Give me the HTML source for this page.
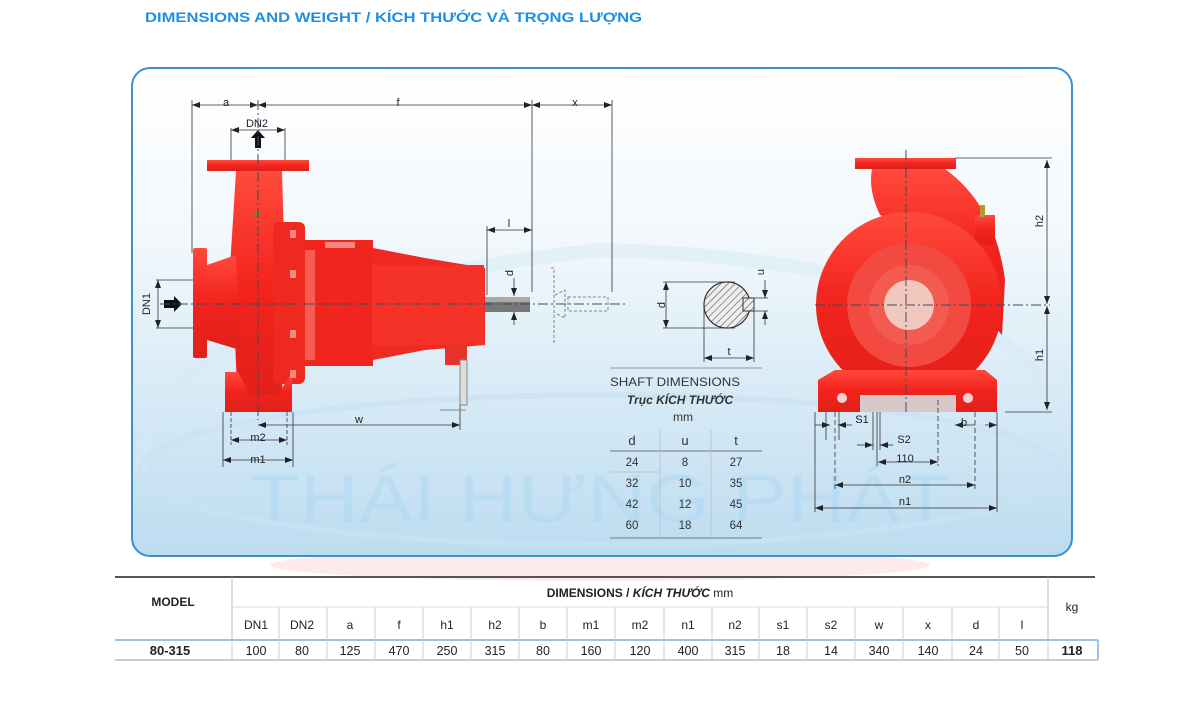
<!DOCTYPE html>
<html><head><meta charset="utf-8"><style>
html,body{margin:0;padding:0;background:#fff;}
svg{display:block;font-family:"Liberation Sans","Noto Sans CJK SC",sans-serif;}
</style></head><body>
<svg width="1200" height="701" viewBox="0 0 1200 701" xmlns="http://www.w3.org/2000/svg">
<defs>
<linearGradient id="bg" x1="0" y1="0" x2="0" y2="1">
<stop offset="0" stop-color="#ffffff"/><stop offset="0.35" stop-color="#f2f8fc"/><stop offset="1" stop-color="#bcdcf0"/>
</linearGradient>
<linearGradient id="red" x1="0" y1="0" x2="0" y2="1">
<stop offset="0" stop-color="#ff4a3c"/><stop offset="0.5" stop-color="#f2231c"/><stop offset="1" stop-color="#e0201a"/>
</linearGradient>
<pattern id="hatch" width="5" height="5" patternUnits="userSpaceOnUse" patternTransform="rotate(45)">
<rect width="5" height="5" fill="#eee"/><line x1="0" y1="0" x2="0" y2="5" stroke="#555" stroke-width="1.2"/>
</pattern>
<marker id="ar" markerWidth="8" markerHeight="6" refX="8" refY="3" orient="auto" markerUnits="userSpaceOnUse"><path d="M0,0 L8,3 L0,6z" fill="#222"/></marker>
<marker id="al" markerWidth="8" markerHeight="6" refX="0" refY="3" orient="auto" markerUnits="userSpaceOnUse"><path d="M8,0 L0,3 L8,6z" fill="#222"/></marker>
</defs>
<text x="145" y="22" font-size="14" font-weight="bold" fill="#1f8fe3" textLength="497" lengthAdjust="spacingAndGlyphs">DIMENSIONS AND WEIGHT / KÍCH THƯỚC VÀ TRỌNG LƯỢNG</text>

<ellipse cx="600" cy="565" rx="330" ry="16" fill="#fdeaea"/>
<rect x="132" y="68" width="940" height="488" rx="18" fill="url(#bg)" stroke="#3d8fcf" stroke-width="2"/>
<path d="M140 470 Q150 300 600 250 Q1000 260 1065 420" fill="none" stroke="#d6e9f5" stroke-width="14" opacity="0.5"/>
<ellipse cx="600" cy="470" rx="460" ry="75" fill="none" stroke="#c9e2f2" stroke-width="6" opacity="0.7"/>
<text x="250" y="522" font-size="68" fill="#a6d6f3" opacity="0.4" textLength="700" lengthAdjust="spacingAndGlyphs">THÁI HƯNG PHÁT</text>

<g stroke="#333" stroke-width="0.8" fill="none">
<line x1="192" y1="105" x2="258" y2="105" marker-start="url(#al)" marker-end="url(#ar)"/>
<line x1="258" y1="105" x2="532" y2="105" marker-start="url(#al)" marker-end="url(#ar)"/>
<line x1="532" y1="105" x2="612" y2="105" marker-start="url(#al)" marker-end="url(#ar)"/>
<line x1="192" y1="100" x2="192" y2="253"/>
<line x1="532" y1="100" x2="532" y2="292"/>
<line x1="612" y1="100" x2="612" y2="292"/>
<line x1="231" y1="130" x2="285" y2="130" marker-start="url(#al)" marker-end="url(#ar)"/>
<line x1="231" y1="128" x2="231" y2="160"/><line x1="285" y1="128" x2="285" y2="160"/>
<line x1="487" y1="230" x2="532" y2="230" marker-start="url(#al)" marker-end="url(#ar)"/>
<line x1="487" y1="226" x2="487" y2="295"/>
<line x1="158" y1="280" x2="158" y2="328" marker-start="url(#al)" marker-end="url(#ar)"/>
<line x1="156" y1="280" x2="193" y2="280"/><line x1="156" y1="328" x2="193" y2="328"/>
<line x1="514" y1="278" x2="514" y2="296" marker-end="url(#ar)"/>
<line x1="514" y1="325" x2="514" y2="312" marker-end="url(#ar)"/>
<line x1="258" y1="425" x2="460" y2="425" marker-start="url(#al)" marker-end="url(#ar)"/>
<line x1="460" y1="380" x2="460" y2="430"/>
<line x1="231" y1="440" x2="287" y2="440" marker-start="url(#al)" marker-end="url(#ar)"/>
<line x1="223" y1="460" x2="293" y2="460" marker-start="url(#al)" marker-end="url(#ar)"/>
<line x1="223" y1="412" x2="223" y2="467"/><line x1="293" y1="412" x2="293" y2="467"/>
<line x1="231" y1="412" x2="231" y2="445" stroke-dasharray="4 2"/><line x1="287" y1="412" x2="287" y2="445" stroke-dasharray="4 2"/>
</g>

<g fill="url(#red)">
<rect x="207" y="160" width="102" height="11"/>
<path d="M236 171 L282 171 L284 240 L282 410 L238 410 L235 340 L228 300 Z"/>
<rect x="193" y="248" width="14" height="110" rx="2"/>
<path d="M207 265 L236 255 L240 350 L207 340 Z"/>
<rect x="273" y="222" width="32" height="162" rx="6" fill="#ee2a20"/>
<rect x="305" y="240" width="68" height="126" fill="#f0261e"/>
<path d="M373 248 L425 258 L485 268 L485 345 L425 350 L373 360 Z" fill="#ef2a22"/>
<rect x="372" y="265" width="112" height="80" fill="#f43228"/>
<path d="M225 372 L238 372 L250 395 L278 395 L292 372 L292 412 L225 412 Z"/>
<rect x="445" y="343" width="22" height="22" fill="#e8332b"/>
</g>
<g fill="#f6a09a" opacity="0.8">
<rect x="325" y="242" width="30" height="6"/>
<rect x="290" y="230" width="6" height="8"/><rect x="290" y="270" width="6" height="8"/><rect x="290" y="330" width="6" height="8"/><rect x="290" y="370" width="6" height="8"/>
<rect x="305" y="250" width="10" height="110" fill="#f86a60"/>
</g>
<rect x="485" y="297" width="45" height="15" fill="#777"/>
<rect x="485" y="297" width="45" height="5" fill="#aaa"/>
<path d="M251 138 L258 130 L265 138 L261 138 L261 148 L255 148 L255 138Z" fill="#111"/>
<path d="M164 300 L174 300 L174 296 L182 304 L174 312 L174 308 L164 308Z" fill="#111"/>
<circle cx="257" cy="214" r="3" fill="#8a7a30"/>
<g stroke="#888" stroke-width="1" fill="#ddd">
<rect x="460" y="360" width="7" height="45"/>
<line x1="440" y1="410" x2="466" y2="410"/>
</g>
<g stroke="#3a4a6a" stroke-width="1" stroke-dasharray="10 3 2 3" fill="none">
<line x1="160" y1="304" x2="625" y2="304"/>
<line x1="258" y1="100" x2="258" y2="420"/>
</g>
<g stroke="#666" stroke-width="0.8" fill="none" stroke-dasharray="3 2">
<rect x="568" y="297" width="40" height="14"/>
<path d="M551 268 L554 268 L554 342 L551 342"/>
<path d="M555 295 L565 290 L565 318 L555 313"/>
</g>

<g stroke="#333" stroke-width="0.8" fill="none">
<line x1="663" y1="282" x2="735" y2="282"/><line x1="663" y1="328" x2="735" y2="328"/>
<line x1="666" y1="282" x2="666" y2="328" marker-start="url(#al)" marker-end="url(#ar)"/>
<line x1="704" y1="305" x2="704" y2="362"/><line x1="754" y1="305" x2="754" y2="362"/>
<line x1="704" y1="358" x2="754" y2="358" marker-start="url(#al)" marker-end="url(#ar)"/>
<line x1="765" y1="280" x2="765" y2="298" marker-end="url(#ar)"/>
<line x1="765" y1="325" x2="765" y2="311" marker-end="url(#ar)"/>
<line x1="745" y1="298" x2="768" y2="298"/><line x1="745" y1="311" x2="768" y2="311"/>
<line x1="610" y1="368" x2="762" y2="368" stroke="#777"/>
</g>
<circle cx="727" cy="305" r="23" fill="url(#hatch)" stroke="#333" stroke-width="1.2"/>
<rect x="743" y="298" width="11" height="13" fill="url(#hatch)" stroke="#333" stroke-width="1"/>
<g font-size="11" fill="#222" text-anchor="middle">
<text x="661" y="309" transform="rotate(-90 661 305)">d</text>
<text x="729" y="355">t</text>
<text x="763" y="277" transform="rotate(-90 761 274)">u</text>
</g>
<g fill="#333" font-size="12">
<text x="610" y="386" textLength="130" lengthAdjust="spacingAndGlyphs">SHAFT DIMENSIONS</text>
<text x="627" y="404" font-style="italic" font-weight="bold">Trục KÍCH THƯỚC</text>
<text x="683" y="421" text-anchor="middle">mm</text>
<g text-anchor="middle" font-size="13"><text x="632" y="445">d</text><text x="685" y="445">u</text><text x="736" y="445">t</text></g>
<g text-anchor="middle" font-size="11.5">
<text x="632" y="466">24</text><text x="685" y="466">8</text><text x="736" y="466">27</text>
<text x="632" y="487">32</text><text x="685" y="487">10</text><text x="736" y="487">35</text>
<text x="632" y="508">42</text><text x="685" y="508">12</text><text x="736" y="508">45</text>
<text x="632" y="529">60</text><text x="685" y="529">18</text><text x="736" y="529">64</text>
</g>
</g>
<g stroke="#777" stroke-width="1"><line x1="610" y1="451" x2="762" y2="451"/><line x1="610" y1="538" x2="762" y2="538"/></g>
<g stroke="#bbb" stroke-width="0.7"><line x1="660" y1="430" x2="660" y2="537"/><line x1="711" y1="430" x2="711" y2="537"/><line x1="610" y1="472" x2="660" y2="472"/></g>

<!-- right pump -->
<g fill="url(#red)">
<rect x="855" y="158" width="101" height="11"/>
<path d="M872 169 L945 169 Q995 205 1005 280 L1002 335 L909 225 L880 215 Q868 190 872 169 Z"/>
<path d="M975 215 L995 215 L995 245 L975 245Z"/>
<circle cx="909" cy="305" r="93"/>
<path d="M818 380 L835 370 L985 370 L997 380 L997 412 L818 412 Z"/>
</g>
<circle cx="909" cy="305" r="62" fill="#f24a40"/>
<circle cx="909" cy="305" r="40" fill="#f35a50"/>
<circle cx="909" cy="305" r="25" fill="#f2c7bd"/>
<rect x="860" y="395" width="96" height="17" fill="#d8c8c8"/>
<g fill="#fff" opacity="0.8"><circle cx="842" cy="398" r="5"/><circle cx="968" cy="398" r="5"/></g>
<rect x="980" y="205" width="5" height="12" fill="#b59a30"/>
<g stroke="#3a4a6a" stroke-width="1" stroke-dasharray="10 3 2 3" fill="none">
<line x1="815" y1="305" x2="1050" y2="305"/>
<line x1="906" y1="150" x2="906" y2="415"/>
</g>
<g stroke="#333" stroke-width="0.8" fill="none">
<line x1="955" y1="158" x2="1052" y2="158"/><line x1="1005" y1="412" x2="1052" y2="412"/>
<line x1="1047" y1="160" x2="1047" y2="304" marker-start="url(#al)" marker-end="url(#ar)"/>
<line x1="1047" y1="306" x2="1047" y2="410" marker-start="url(#al)" marker-end="url(#ar)"/>
<line x1="815" y1="412" x2="815" y2="512"/><line x1="997" y1="412" x2="997" y2="512"/>
<line x1="835" y1="412" x2="835" y2="490" stroke-dasharray="5 3"/><line x1="975" y1="412" x2="975" y2="490" stroke-dasharray="5 3"/>
<line x1="877" y1="412" x2="877" y2="466"/><line x1="938" y1="400" x2="938" y2="466" stroke-dasharray="5 3"/>
<line x1="815" y1="508" x2="997" y2="508" marker-start="url(#al)" marker-end="url(#ar)"/>
<line x1="835" y1="485" x2="975" y2="485" marker-start="url(#al)" marker-end="url(#ar)"/>
<line x1="878" y1="462" x2="938" y2="462" marker-start="url(#al)" marker-end="url(#ar)"/>
<line x1="815" y1="425" x2="830" y2="425" marker-end="url(#ar)"/>
<line x1="852" y1="425" x2="838" y2="425" marker-end="url(#ar)"/>
<line x1="857" y1="445" x2="873" y2="445" marker-end="url(#ar)"/>
<line x1="893" y1="445" x2="880" y2="445" marker-end="url(#ar)"/>
<line x1="955" y1="425" x2="975" y2="425" marker-start="url(#al)"/>
<line x1="997" y1="425" x2="985" y2="425" marker-start="url(#al)"/>
<line x1="826" y1="412" x2="826" y2="440"/><line x1="839" y1="412" x2="839" y2="440"/>
<line x1="873" y1="412" x2="873" y2="450"/><line x1="880" y1="412" x2="880" y2="450"/>
</g>
<g font-size="11" fill="#222" text-anchor="middle">
<text x="226" y="106">a</text><text x="398" y="106">f</text><text x="575" y="106">x</text>
<text x="257" y="127">DN2</text><text x="509" y="227">l</text>
<text x="150" y="304" transform="rotate(-90 150 304)">DN1</text>
<text x="513" y="279" transform="rotate(-90 510 276)">d</text>
<text x="359" y="423">w</text><text x="258" y="441">m2</text><text x="258" y="463">m1</text>
<text x="1044" y="228" transform="rotate(-90 1040 225)">h2</text>
<text x="1044" y="362" transform="rotate(-90 1040 359)">h1</text>
<text x="862" y="423">S1</text><text x="904" y="443">S2</text><text x="905" y="462">110</text>
<text x="905" y="483">n2</text><text x="905" y="505">n1</text><text x="964" y="426">b</text>
</g>

<g stroke-width="1">
<line x1="115" y1="577" x2="1095" y2="577" stroke="#555" stroke-width="2"/>
<line x1="232" y1="577" x2="232" y2="640" stroke="#bbb"/>
<line x1="1048" y1="577" x2="1048" y2="640" stroke="#bbb"/>
<line x1="232" y1="607" x2="1048" y2="607" stroke="#ddd"/>
<line x1="115" y1="640" x2="1098" y2="640" stroke="#9ec3e2" stroke-width="2"/>
<line x1="115" y1="660" x2="1098" y2="660" stroke="#999"/>
<line x1="1098" y1="640" x2="1098" y2="660" stroke="#9ec3e2" stroke-width="2"/>
<g stroke="#ccc">
<line x1="279" y1="607" x2="279" y2="660"/><line x1="327" y1="607" x2="327" y2="660"/><line x1="375" y1="607" x2="375" y2="660"/>
<line x1="423" y1="607" x2="423" y2="660"/><line x1="471" y1="607" x2="471" y2="660"/><line x1="519" y1="607" x2="519" y2="660"/>
<line x1="567" y1="607" x2="567" y2="660"/><line x1="615" y1="607" x2="615" y2="660"/><line x1="664" y1="607" x2="664" y2="660"/>
<line x1="712" y1="607" x2="712" y2="660"/><line x1="759" y1="607" x2="759" y2="660"/><line x1="807" y1="607" x2="807" y2="660"/>
<line x1="855" y1="607" x2="855" y2="660"/><line x1="903" y1="607" x2="903" y2="660"/><line x1="952" y1="607" x2="952" y2="660"/>
<line x1="999" y1="607" x2="999" y2="660"/><line x1="232" y1="640" x2="232" y2="660"/><line x1="1048" y1="640" x2="1048" y2="660"/>
</g>
</g>
<g fill="#222" font-size="12" text-anchor="middle">
<text x="173" y="606" font-weight="bold">MODEL</text>
<text x="640" y="597" font-weight="bold" font-size="12">DIMENSIONS / <tspan font-style="italic">KÍCH THƯỚC</tspan> <tspan font-weight="normal">mm</tspan></text>
<text x="1072" y="611">kg</text>
<g font-size="12">
<text x="256" y="629">DN1</text><text x="302" y="629">DN2</text><text x="350" y="629">a</text><text x="399" y="629">f</text>
<text x="447" y="629">h1</text><text x="495" y="629">h2</text><text x="543" y="629">b</text><text x="591" y="629">m1</text>
<text x="640" y="629">m2</text><text x="688" y="629">n1</text><text x="735" y="629">n2</text><text x="783" y="629">s1</text>
<text x="831" y="629">s2</text><text x="879" y="629">w</text><text x="928" y="629">x</text><text x="976" y="629">d</text><text x="1022" y="629">l</text>
</g>
<text x="170" y="655" font-weight="bold" font-size="13">80-315</text>
<g font-size="12.5">
<text x="256" y="655">100</text><text x="302" y="655">80</text><text x="350" y="655">125</text><text x="399" y="655">470</text>
<text x="447" y="655">250</text><text x="495" y="655">315</text><text x="543" y="655">80</text><text x="591" y="655">160</text>
<text x="640" y="655">120</text><text x="688" y="655">400</text><text x="735" y="655">315</text><text x="783" y="655">18</text>
<text x="831" y="655">14</text><text x="879" y="655">340</text><text x="928" y="655">140</text><text x="976" y="655">24</text><text x="1022" y="655">50</text>
</g>
<text x="1072" y="655" font-weight="bold" font-size="13">118</text>
</g>
</svg>
</body></html>
